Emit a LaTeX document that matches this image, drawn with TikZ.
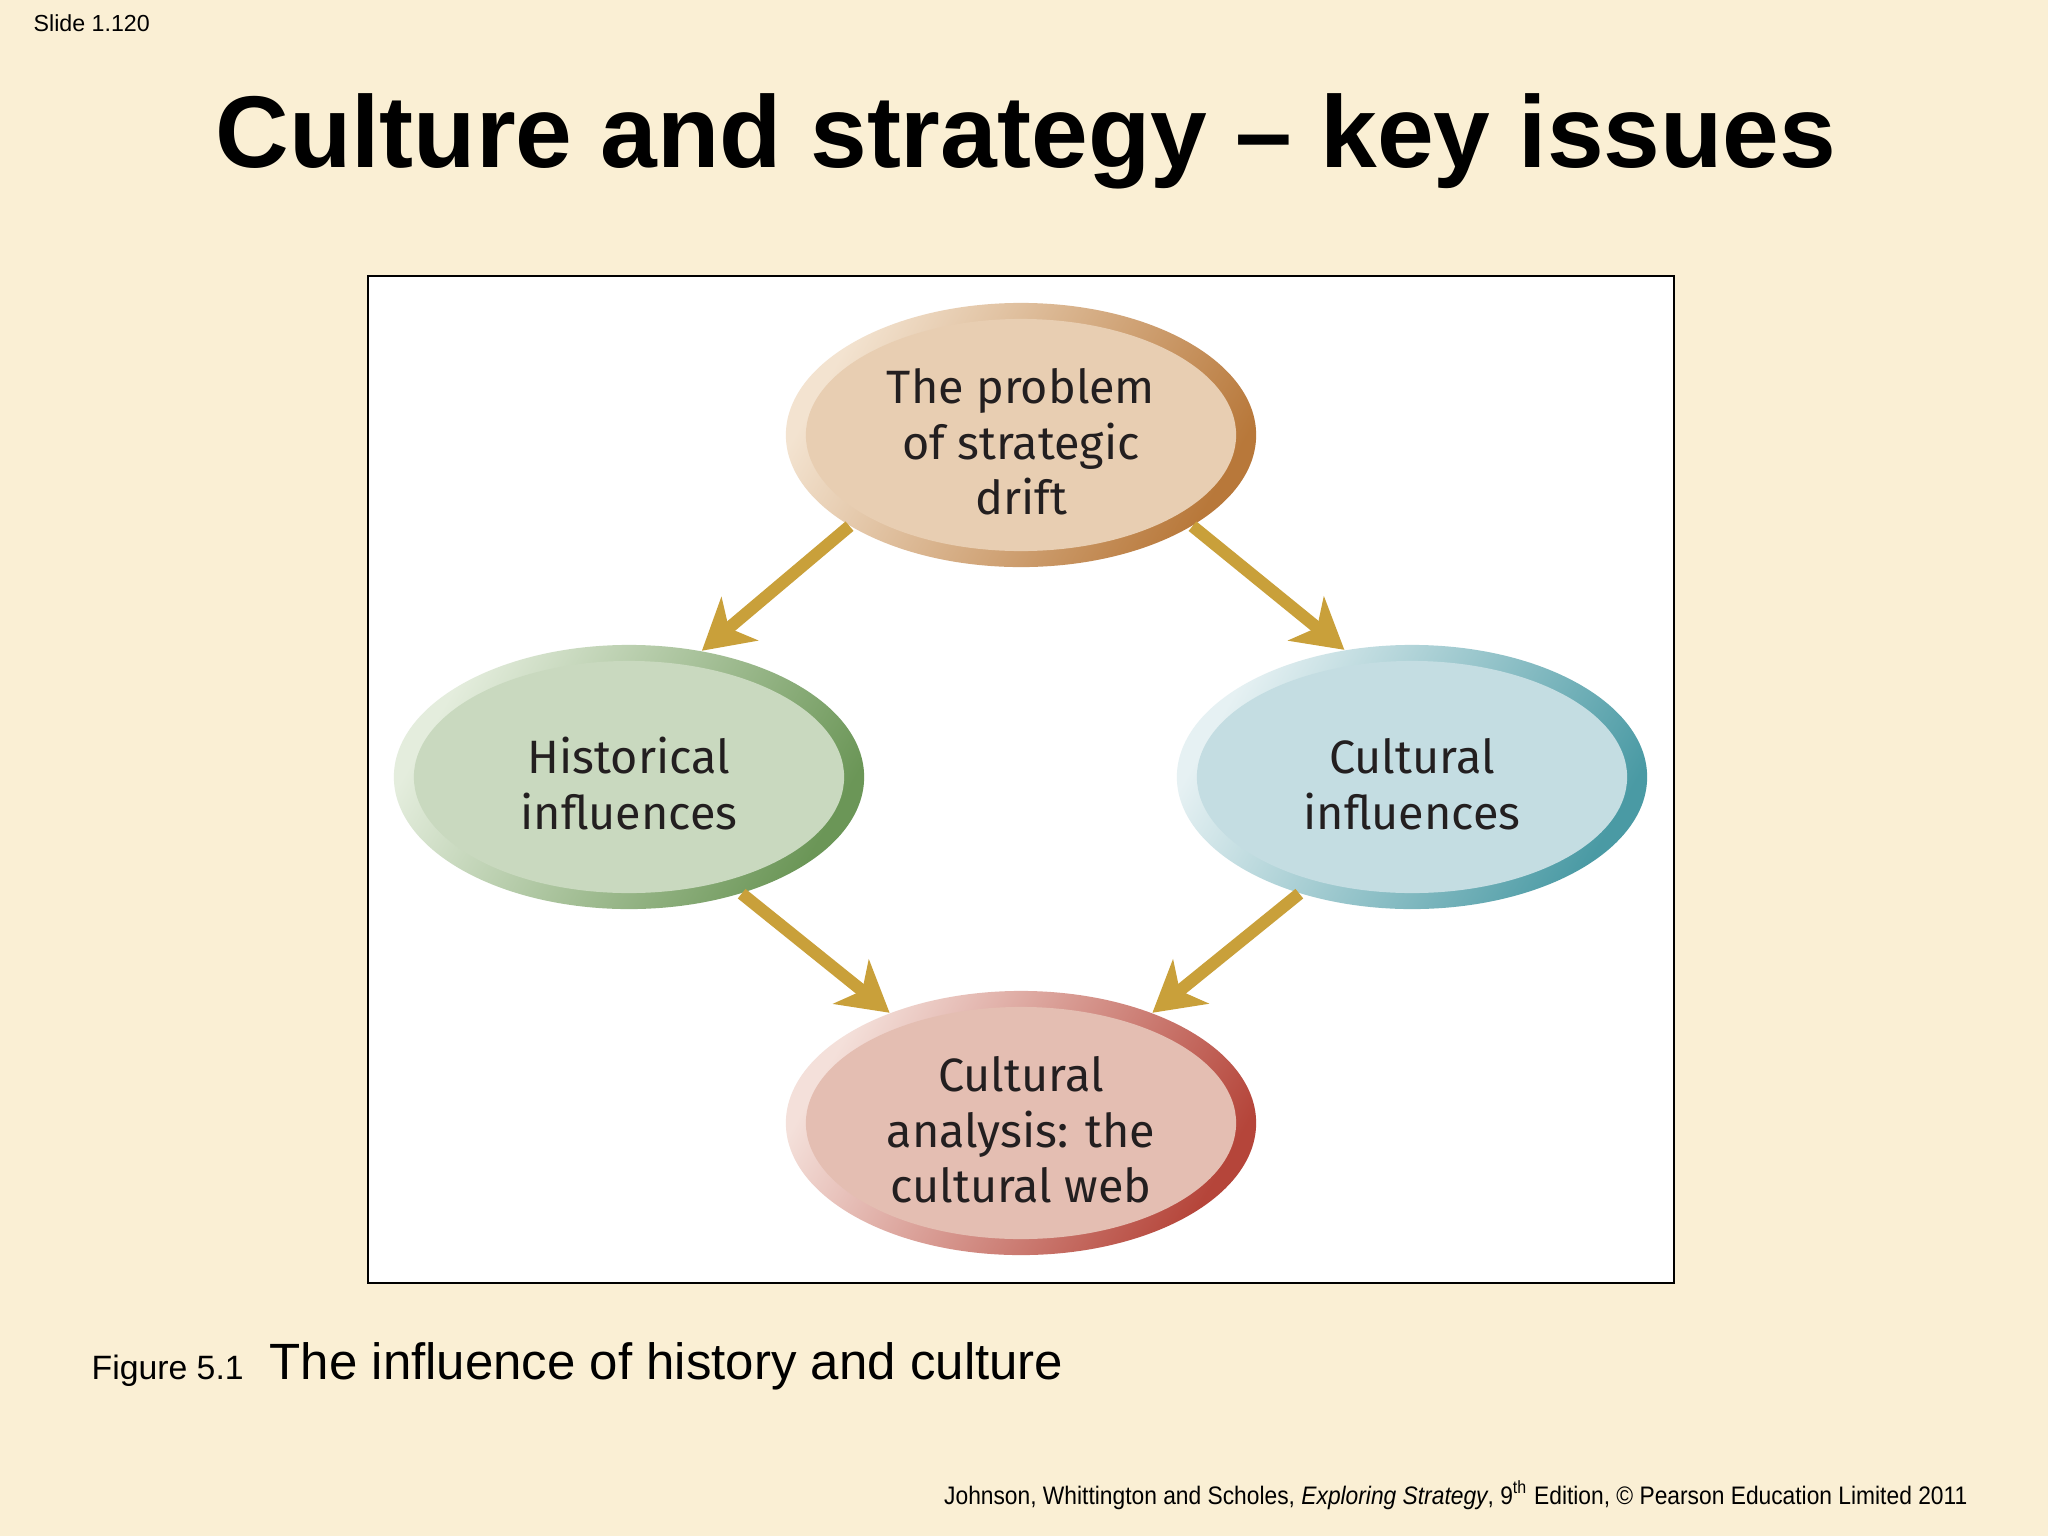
\documentclass[tikz,border=0pt]{standalone}
\usepackage{fontspec}
\usepackage{graphicx}
\setmainfont{Liberation Sans}
\newfontfamily\blobfont{Fira Sans}
\usetikzlibrary{shapes.geometric,arrows.meta}
\definecolor{slidebg}{HTML}{FAEFD4}
\definecolor{arrowgold}{HTML}{C9A03A}
\definecolor{blobtext}{HTML}{231F20}
\definecolor{driftlight}{HTML}{F3E3D0}
\definecolor{driftdark}{HTML}{B8783A}
\definecolor{driftfill}{HTML}{E8CEB2}
\definecolor{histlight}{HTML}{E4EDDD}
\definecolor{histdark}{HTML}{6B9657}
\definecolor{histfill}{HTML}{C9D9BF}
\definecolor{cultlight}{HTML}{E6F1F3}
\definecolor{cultdark}{HTML}{4A9AA4}
\definecolor{cultfill}{HTML}{C4DDE2}
\definecolor{weblight}{HTML}{F4E0DA}
\definecolor{webdark}{HTML}{B5453A}
\definecolor{webfill}{HTML}{E4BEB2}
\tikzset{
	blob/.style n args={3}{ellipse,minimum width=4.7cm,minimum height=2.64cm,inner sep=0pt,
		align=center,font=\blobfont\fontsize{13.3}{15.8}\selectfont,text=blobtext,
		top color=#1,bottom color=#2,shading angle=60,
		path picture={\fill[#3] (path picture bounding box.center) ellipse [x radius=2.15cm,y radius=1.16cm];}},
	influence/.style={draw=arrowgold,line width=3.5pt,-{Stealth[length=14pt,width=16pt,inset=4pt]}},
	slidetext/.style={inner sep=0pt,font=\fontsize{#1}{#1}\selectfont}
}
\begin{document}
\begin{tikzpicture}[x=0.01cm,y=-0.01cm]
	\fill[slidebg] (0,0) rectangle (2048,1536);
	\useasboundingbox (0,0) rectangle (2048,1536);
	\node[anchor=base west,slidetext=6.6] (slideno) at (33,31) {Slide 1.120};
	\node[anchor=base,slidetext=29] (title) at (1026,167) {\bfseries Culture and strategy -- key issues};
	\draw[line width=0.5pt,fill=white] (368,276) rectangle (1674,1283);
	\node[blob={driftlight}{driftdark}{driftfill}] (drift) at (1021,435) {\rule{0pt}{14pt}The problem\\of strategic\\drift};
	\node[blob={histlight}{histdark}{histfill}] (hist) at (629,777) {\rule{0pt}{14pt}Historical\\influences};
	\node[blob={cultlight}{cultdark}{cultfill}] (cult) at (1412,777) {\rule{0pt}{14pt}Cultural\\influences};
	\node[blob={weblight}{webdark}{webfill}] (web) at (1021,1123) {\rule{0pt}{14pt}Cultural\\analysis: the\\cultural web};
	\foreach \a/\b in {drift.208/hist.60,drift.332/cult.118,hist.314/web.140,cult.226/web.40}{
	\draw[influence] (\a) -- (\b);
	}
	\node[anchor=base west,slidetext=9.6] (fignum) at (91,1379) {Figure 5.1};
	\node[anchor=base west,slidetext=14.5] (figcap) at (269,1379) {The influence of history and culture};
	\node[anchor=base east,slidetext=7.2] (credit) at (1968,1504) {\scalebox{0.9}[1]{Johnson, Whittington and Scholes, \textit{Exploring Strategy}, 9\textsuperscript{th} Edition, \textcopyright\ Pearson Education Limited 2011}};
\end{tikzpicture}
\end{document}
